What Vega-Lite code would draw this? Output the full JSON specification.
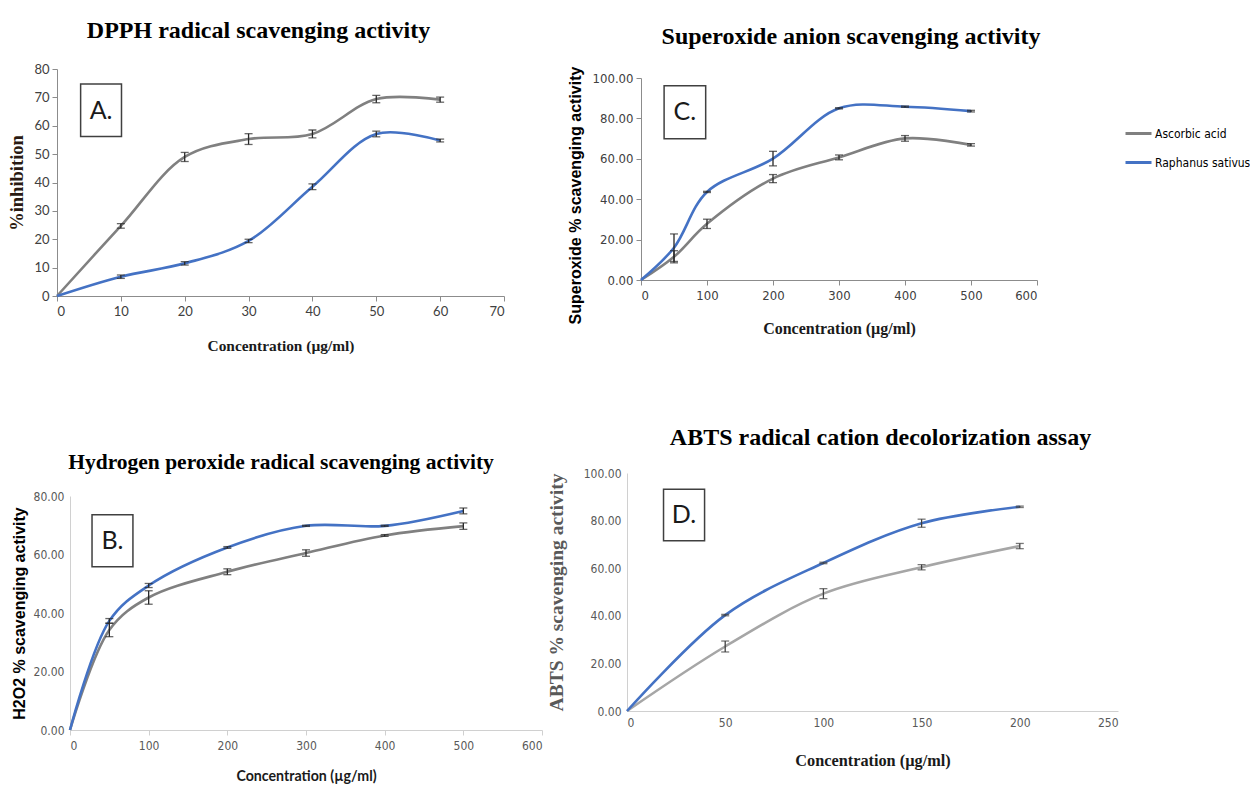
{
  "$schema": "https://vega.github.io/schema/vega-lite/v6.json",
  "background": "white",
  "padding": {"left": 7, "top": 19, "right": 0, "bottom": 0},
  "config": {
    "view": {"stroke": null},
    "axis": {"grid": false, "domainColor": "#8c8c8c", "tickColor": "#8c8c8c", "tickSize": 5, "labelColor": "#404040", "domainWidth": 1, "tickWidth": 1}
  },
  "datasets": {
    "dpph": [
      {"s": "Ascorbic acid", "x": 0, "y": 0, "e": 0},
      {"s": "Ascorbic acid", "x": 10, "y": 24.7, "e": 0.8},
      {"s": "Ascorbic acid", "x": 20, "y": 49.0, "e": 1.6},
      {"s": "Ascorbic acid", "x": 30, "y": 55.3, "e": 1.9},
      {"s": "Ascorbic acid", "x": 40, "y": 57.1, "e": 1.4},
      {"s": "Ascorbic acid", "x": 50, "y": 69.4, "e": 1.3},
      {"s": "Ascorbic acid", "x": 60, "y": 69.2, "e": 0.9},
      {"s": "Raphanus sativus", "x": 0, "y": 0, "e": 0},
      {"s": "Raphanus sativus", "x": 10, "y": 6.8, "e": 0.6},
      {"s": "Raphanus sativus", "x": 20, "y": 11.5, "e": 0.6},
      {"s": "Raphanus sativus", "x": 30, "y": 19.4, "e": 0.6},
      {"s": "Raphanus sativus", "x": 40, "y": 38.5, "e": 1.0},
      {"s": "Raphanus sativus", "x": 50, "y": 57.1, "e": 1.0},
      {"s": "Raphanus sativus", "x": 60, "y": 54.8, "e": 0.5}
    ],
    "sup": [
      {"s": "Ascorbic acid", "x": 0, "y": 0, "e": 0},
      {"s": "Ascorbic acid", "x": 50, "y": 11.5, "e": 3.0},
      {"s": "Ascorbic acid", "x": 100, "y": 27.8, "e": 2.3},
      {"s": "Ascorbic acid", "x": 200, "y": 50.2, "e": 2.0},
      {"s": "Ascorbic acid", "x": 300, "y": 60.7, "e": 1.2},
      {"s": "Ascorbic acid", "x": 400, "y": 70.1, "e": 1.4},
      {"s": "Ascorbic acid", "x": 500, "y": 66.9, "e": 0.6},
      {"s": "Raphanus sativus", "x": 0, "y": 0, "e": 0},
      {"s": "Raphanus sativus", "x": 50, "y": 16.0, "e": 6.8},
      {"s": "Raphanus sativus", "x": 100, "y": 43.6, "e": 0.3},
      {"s": "Raphanus sativus", "x": 200, "y": 60.1, "e": 3.6},
      {"s": "Raphanus sativus", "x": 300, "y": 85.0, "e": 0.3},
      {"s": "Raphanus sativus", "x": 400, "y": 85.8, "e": 0.3},
      {"s": "Raphanus sativus", "x": 500, "y": 83.6, "e": 0.4}
    ],
    "h2o2": [
      {"s": "Ascorbic acid", "x": 0, "y": 0, "e": 0},
      {"s": "Ascorbic acid", "x": 50, "y": 34.2, "e": 2.3},
      {"s": "Ascorbic acid", "x": 100, "y": 45.3, "e": 2.3},
      {"s": "Ascorbic acid", "x": 200, "y": 54.1, "e": 1.0},
      {"s": "Ascorbic acid", "x": 300, "y": 60.5, "e": 1.1},
      {"s": "Ascorbic acid", "x": 400, "y": 66.5, "e": 0.3},
      {"s": "Ascorbic acid", "x": 500, "y": 69.7, "e": 1.1},
      {"s": "Raphanus sativus", "x": 0, "y": 0, "e": 0},
      {"s": "Raphanus sativus", "x": 50, "y": 37.3, "e": 0.8},
      {"s": "Raphanus sativus", "x": 100, "y": 49.4, "e": 0.7},
      {"s": "Raphanus sativus", "x": 200, "y": 62.4, "e": 0.3},
      {"s": "Raphanus sativus", "x": 300, "y": 69.8, "e": 0.2},
      {"s": "Raphanus sativus", "x": 400, "y": 69.8, "e": 0.2},
      {"s": "Raphanus sativus", "x": 500, "y": 74.9, "e": 1.0}
    ],
    "abts": [
      {"s": "Ascorbic acid", "x": 0, "y": 0, "e": 0},
      {"s": "Ascorbic acid", "x": 50, "y": 27.1, "e": 2.3},
      {"s": "Ascorbic acid", "x": 100, "y": 49.3, "e": 2.1},
      {"s": "Ascorbic acid", "x": 150, "y": 60.4, "e": 1.1},
      {"s": "Ascorbic acid", "x": 200, "y": 69.3, "e": 1.1},
      {"s": "Raphanus sativus", "x": 0, "y": 0, "e": 0},
      {"s": "Raphanus sativus", "x": 50, "y": 40.3, "e": 0.3},
      {"s": "Raphanus sativus", "x": 100, "y": 62.2, "e": 0.3},
      {"s": "Raphanus sativus", "x": 150, "y": 78.9, "e": 1.7},
      {"s": "Raphanus sativus", "x": 200, "y": 85.8, "e": 0.3}
    ],
    "boxes": [
      {"p": "A", "x": 3.7, "x2": 10.1, "y": 74.7, "y2": 56.2},
      {"p": "B", "x": 28, "x2": 80, "y": 73.6, "y2": 55.8},
      {"p": "C", "x": 35, "x2": 98, "y": 96.2, "y2": 69.9},
      {"p": "D", "x": 18.6, "x2": 39.5, "y": 93.2, "y2": 71.5}
    ],
    "letters": [
      {"p": "A", "x": 6.9, "y": 65.2, "t": "A."},
      {"p": "B", "x": 54, "y": 64.7, "t": "B."},
      {"p": "C", "x": 66.5, "y": 83, "t": "C."},
      {"p": "D", "x": 29, "y": 82.3, "t": "D."}
    ]
  },
  "resolve": {"scale": {"color": "independent"}},
  "columns": 2,
  "align": "none",
  "spacing": 3,
  "concat": [
    {
      "columns": 1,
      "align": "none",
      "spacing": 98,
      "resolve": {"scale": {"color": "independent"}},
      "concat": [
        {
          "width": 447,
          "height": 227,
          "title": {"text": "DPPH radical scavenging activity", "font": "Liberation Serif", "fontSize": 24, "fontWeight": "bold", "color": "#000000", "offset": 20, "frame": "group", "dx": -22},
          "encoding": {
            "x": {"field": "x", "type": "quantitative", "scale": {"domain": [0, 70], "nice": false},
                  "axis": {"values": [0, 10, 20, 30, 40, 50, 60, 70], "title": "Concentration (µg/ml)", "titleFont": "Liberation Serif", "titleFontWeight": "bold", "titleFontSize": 15.4, "titleColor": "#1a1a1a", "titlePadding": 20, "labelFont": "Lato", "labelFontSize": 13, "labelPadding": 4}},
            "y": {"field": "y", "type": "quantitative", "scale": {"domain": [0, 80], "nice": false},
                  "axis": {"values": [0, 10, 20, 30, 40, 50, 60, 70, 80], "title": "%inhibition", "titleFont": "Liberation Serif", "titleFontWeight": "bold", "titleFontSize": 18.5, "titleColor": "#2a1a12", "titlePadding": 7, "labelFont": "Lato", "labelFontSize": 13, "labelPadding": 3}}
          },
          "layer": [
            {"data": {"name": "boxes"}, "transform": [{"filter": "datum.p == 'A'"}], "mark": {"type": "rect", "fill": "white", "stroke": "#404040", "strokeWidth": 1.5}, "encoding": {"x2": {"field": "x2"}, "y2": {"field": "y2"}}},
            {"data": {"name": "letters"}, "transform": [{"filter": "datum.p == 'A'"}], "mark": {"type": "text", "font": "Lato", "fontSize": 25, "color": "#1a1a1a"}, "encoding": {"text": {"field": "t"}}},
            {"data": {"name": "dpph"}, "mark": {"type": "line", "interpolate": "catmull-rom", "strokeWidth": 2.6}, "encoding": {"color": {"field": "s", "type": "nominal", "scale": {"domain": ["Ascorbic acid", "Raphanus sativus"], "range": ["#808080", "#4472c4"]}, "legend": null}}},
            {"data": {"name": "dpph"}, "transform": [{"filter": "datum.e > 0"}], "mark": {"type": "errorbar", "ticks": true, "size": 8, "thickness": 1.3, "color": "#262626"}, "encoding": {"yError": {"field": "e"}}}
          ]
        },
        {
          "width": 485,
          "height": 234,
          "title": {"text": "Hydrogen peroxide radical scavenging activity", "font": "Liberation Serif", "fontSize": 21.5, "fontWeight": "bold", "color": "#000000", "offset": 16.5, "frame": "group", "dx": -18.5},
          "encoding": {
            "x": {"field": "x", "type": "quantitative", "scale": {"domain": [0, 600], "nice": false, "range": [13, 485]},
                  "axis": {"values": [0, 100, 200, 300, 400, 500, 600], "title": "Concentration (µg/ml)", "titleFont": "Lato", "titleFontWeight": "bold", "titleFontSize": 14.2, "titleColor": "#1a1a1a", "titlePadding": 18, "labelFont": "Liberation Sans Narrow, DejaVu Sans Condensed, sans-serif", "labelFontSize": 12, "labelColor": "#595959", "labelPadding": 5, "domainColor": "#d0d0d0", "tickColor": "#d0d0d0"}},
            "y": {"field": "y", "type": "quantitative", "scale": {"domain": [0, 80], "nice": false},
                  "axis": {"values": [0, 20, 40, 60, 80], "format": ".2f", "offset": -13, "title": "H2O2 % scavenging activity", "titleFont": "Liberation Sans", "titleFontWeight": "bold", "titleFontSize": 16, "titleColor": "#000000", "titlePadding": 6, "labelFont": "Liberation Sans Narrow, DejaVu Sans Condensed, sans-serif", "labelFontSize": 12, "labelColor": "#595959", "labelPadding": 6, "domainColor": "#d0d0d0", "tickSize": 0}}
          },
          "layer": [
            {"data": {"name": "boxes"}, "transform": [{"filter": "datum.p == 'B'"}], "mark": {"type": "rect", "fill": "white", "stroke": "#404040", "strokeWidth": 1.5}, "encoding": {"x2": {"field": "x2"}, "y2": {"field": "y2"}}},
            {"data": {"name": "letters"}, "transform": [{"filter": "datum.p == 'B'"}], "mark": {"type": "text", "font": "Lato", "fontSize": 25, "color": "#1a1a1a"}, "encoding": {"text": {"field": "t"}}},
            {"data": {"name": "h2o2"}, "mark": {"type": "line", "interpolate": "catmull-rom", "strokeWidth": 2.6}, "encoding": {"color": {"field": "s", "type": "nominal", "scale": {"domain": ["Ascorbic acid", "Raphanus sativus"], "range": ["#808080", "#4472c4"]}, "legend": null}}},
            {"data": {"name": "h2o2"}, "transform": [{"filter": "datum.e > 0"}], "mark": {"type": "errorbar", "ticks": true, "size": 8, "thickness": 1.3, "color": "#262626"}, "encoding": {"yError": {"field": "e"}}}
          ]
        }
      ]
    },
    {
      "columns": 1,
      "align": "none",
      "spacing": 90,
      "resolve": {"scale": {"color": "independent"}},
      "concat": [
        {
          "width": 410,
          "height": 211,
          "title": {"text": "Superoxide anion scavenging activity", "font": "Liberation Serif", "fontSize": 24, "fontWeight": "bold", "color": "#000000", "offset": 17.5, "frame": "group", "dx": 19},
          "encoding": {
            "x": {"field": "x", "type": "quantitative", "scale": {"domain": [0, 600], "nice": false, "range": [14, 410]},
                  "axis": {"values": [0, 100, 200, 300, 400, 500, 600], "title": "Concentration  (µg/ml)", "titleFont": "Liberation Serif", "titleFontWeight": "bold", "titleFontSize": 16, "titleColor": "#1a1a1a", "titlePadding": 18, "labelFont": "Liberation Sans Narrow, DejaVu Sans Condensed, sans-serif", "labelFontSize": 13, "labelPadding": 4}},
            "y": {"field": "y", "type": "quantitative", "scale": {"domain": [0, 100], "nice": false, "range": [211, 9]},
                  "axis": {"values": [0, 20, 40, 60, 80, 100], "format": ".2f", "offset": -14, "title": "Superoxide % scavenging activity", "titleFont": "Liberation Sans", "titleFontWeight": "bold", "titleFontSize": 16, "titleColor": "#000000", "titlePadding": 9, "titleY": 126, "labelFont": "Liberation Sans Narrow, DejaVu Sans Condensed, sans-serif", "labelFontSize": 13, "labelPadding": 3}}
          },
          "layer": [
            {"data": {"name": "boxes"}, "transform": [{"filter": "datum.p == 'C'"}], "mark": {"type": "rect", "fill": "white", "stroke": "#404040", "strokeWidth": 1.5}, "encoding": {"x2": {"field": "x2"}, "y2": {"field": "y2"}}},
            {"data": {"name": "letters"}, "transform": [{"filter": "datum.p == 'C'"}], "mark": {"type": "text", "font": "Lato", "fontSize": 25, "color": "#1a1a1a"}, "encoding": {"text": {"field": "t"}}},
            {"data": {"name": "sup"}, "mark": {"type": "line", "interpolate": "catmull-rom", "strokeWidth": 2.6}, "encoding": {"color": {"field": "s", "type": "nominal", "scale": {"domain": ["Ascorbic acid", "Raphanus sativus"], "range": ["#808080", "#4472c4"]},
              "legend": {"title": null, "orient": "none", "legendX": 497, "legendY": 50, "symbolType": "stroke", "symbolSize": 676, "symbolStrokeWidth": 3, "labelFont": "Liberation Sans Narrow, DejaVu Sans Condensed, sans-serif", "labelFontSize": 12, "labelColor": "#000000", "rowPadding": 8, "labelOffset": 2}}}},
            {"data": {"name": "sup"}, "transform": [{"filter": "datum.e > 0"}], "mark": {"type": "errorbar", "ticks": true, "size": 8, "thickness": 1.3, "color": "#262626"}, "encoding": {"yError": {"field": "e"}}}
          ]
        },
        {
          "width": 491,
          "height": 238,
          "title": {"text": "ABTS radical cation decolorization assay", "font": "Liberation Serif", "fontSize": 24, "fontWeight": "bold", "color": "#000000", "offset": 17, "frame": "group", "dx": 8},
          "encoding": {
            "x": {"field": "x", "type": "quantitative", "scale": {"domain": [0, 250], "nice": false},
                  "axis": {"values": [0, 50, 100, 150, 200, 250], "title": "Concentration  (µg/ml)", "titleFont": "Liberation Serif", "titleFontWeight": "bold", "titleFontSize": 16.3, "titleColor": "#1a1a1a", "titlePadding": 24, "labelFont": "Liberation Sans Narrow, DejaVu Sans Condensed, sans-serif", "labelFontSize": 12, "labelColor": "#595959", "labelPadding": 6, "domainColor": "#d0d0d0", "tickSize": 0}},
            "y": {"field": "y", "type": "quantitative", "scale": {"domain": [0, 100], "nice": false},
                  "axis": {"values": [0, 20, 40, 60, 80, 100], "format": ".2f", "title": "ABTS % scavenging activity", "titleFont": "Liberation Serif", "titleFontWeight": "bold", "titleFontSize": 19.5, "titleColor": "#595959", "titlePadding": 17, "labelFont": "Liberation Sans Narrow, DejaVu Sans Condensed, sans-serif", "labelFontSize": 12, "labelColor": "#595959", "labelPadding": 6, "domainColor": "#d0d0d0", "tickSize": 0}}
          },
          "layer": [
            {"data": {"name": "boxes"}, "transform": [{"filter": "datum.p == 'D'"}], "mark": {"type": "rect", "fill": "white", "stroke": "#404040", "strokeWidth": 1.5}, "encoding": {"x2": {"field": "x2"}, "y2": {"field": "y2"}}},
            {"data": {"name": "letters"}, "transform": [{"filter": "datum.p == 'D'"}], "mark": {"type": "text", "font": "Lato", "fontSize": 25, "color": "#1a1a1a"}, "encoding": {"text": {"field": "t"}}},
            {"data": {"name": "abts"}, "mark": {"type": "line", "interpolate": "catmull-rom", "strokeWidth": 2.6}, "encoding": {"color": {"field": "s", "type": "nominal", "scale": {"domain": ["Ascorbic acid", "Raphanus sativus"], "range": ["#a6a6a6", "#4472c4"]}, "legend": null}}},
            {"data": {"name": "abts"}, "transform": [{"filter": "datum.e > 0"}], "mark": {"type": "errorbar", "ticks": true, "size": 8, "thickness": 1.3, "color": "#404040"}, "encoding": {"yError": {"field": "e"}}}
          ]
        }
      ]
    }
  ]
}
